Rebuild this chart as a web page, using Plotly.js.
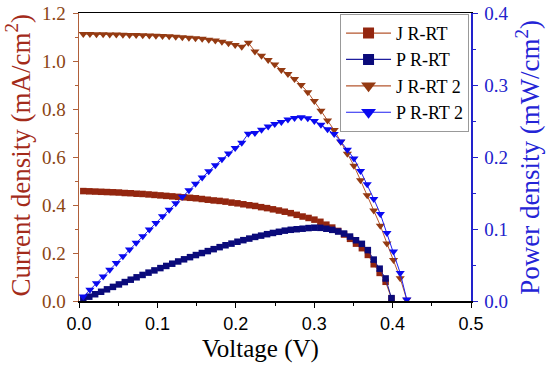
<!DOCTYPE html>
<html>
<head>
<meta charset="utf-8">
<script src="https://cdn.plot.ly/plotly-3.0.1.min.js"></script>
<style>html,body{margin:0;padding:0;background:#fff;}#chart{width:550px;height:369px;}</style>
</head>
<body>
<div id="chart"></div>
<script>
// Voltage (V) for the R-RT sample
const V1 = [0.0055,0.0131,0.0206,0.0282,0.0357,0.0433,0.0509,0.0584,0.0660,0.0735,0.0811,0.0887,0.0962,0.1038,0.1113,0.1189,0.1265,0.1340,0.1416,0.1491,0.1567,0.1643,0.1718,0.1794,0.1869,0.1945,0.2021,0.2096,0.2172,0.2247,0.2323,0.2399,0.2474,0.2550,0.2625,0.2701,0.2777,0.2852,0.2928,0.3003,0.3079,0.3155,0.3230,0.3306,0.3381,0.3457,0.3533,0.3608,0.3684,0.3759,0.3835,0.3911,0.3986];
// Current density (mA/cm2), J R-RT
const J1 = [0.458,0.457,0.456,0.455,0.454,0.453,0.452,0.450,0.449,0.447,0.446,0.444,0.442,0.440,0.438,0.436,0.434,0.432,0.430,0.428,0.425,0.422,0.419,0.417,0.414,0.410,0.407,0.403,0.399,0.396,0.391,0.387,0.382,0.377,0.372,0.366,0.359,0.352,0.346,0.339,0.330,0.318,0.306,0.292,0.277,0.259,0.239,0.220,0.192,0.153,0.117,0.080,0.010];
// Power density (mW/cm2), P R-RT
const P1 = [0.0025,0.0060,0.0094,0.0128,0.0162,0.0196,0.0230,0.0263,0.0296,0.0329,0.0362,0.0394,0.0425,0.0457,0.0487,0.0518,0.0549,0.0579,0.0609,0.0638,0.0666,0.0693,0.0720,0.0748,0.0774,0.0797,0.0823,0.0845,0.0867,0.0890,0.0908,0.0928,0.0945,0.0961,0.0977,0.0989,0.0997,0.1004,0.1013,0.1018,0.1016,0.1003,0.0988,0.0965,0.0937,0.0895,0.0844,0.0794,0.0707,0.0575,0.0449,0.0313,0.0040];
// Voltage (V) for the R-RT 2 sample
const V2 = [0.0055,0.0139,0.0223,0.0308,0.0392,0.0476,0.0560,0.0644,0.0729,0.0813,0.0897,0.0981,0.1065,0.1150,0.1234,0.1318,0.1402,0.1486,0.1571,0.1655,0.1739,0.1823,0.1907,0.1992,0.2076,0.2160,0.2244,0.2328,0.2413,0.2497,0.2581,0.2665,0.2749,0.2834,0.2918,0.3002,0.3086,0.3170,0.3255,0.3339,0.3423,0.3507,0.3591,0.3676,0.3760,0.3844,0.3928,0.4012,0.4097,0.4181];
// Current density (mA/cm2), J R-RT 2
const J2 = [1.112,1.112,1.111,1.111,1.110,1.110,1.109,1.108,1.108,1.107,1.106,1.105,1.104,1.103,1.101,1.099,1.097,1.095,1.093,1.089,1.085,1.080,1.074,1.067,1.059,1.076,1.040,1.022,1.004,0.985,0.963,0.946,0.925,0.900,0.870,0.833,0.793,0.752,0.712,0.664,0.614,0.564,0.503,0.441,0.377,0.314,0.240,0.171,0.095,0.005];
// Power density (mW/cm2), P R-RT 2
const P2 = [0.0061,0.0155,0.0248,0.0342,0.0435,0.0528,0.0621,0.0714,0.0808,0.0900,0.0992,0.1084,0.1176,0.1268,0.1359,0.1448,0.1538,0.1627,0.1717,0.1802,0.1887,0.1969,0.2048,0.2125,0.2198,0.2324,0.2334,0.2379,0.2423,0.2460,0.2486,0.2521,0.2543,0.2551,0.2539,0.2501,0.2447,0.2384,0.2318,0.2217,0.2102,0.1978,0.1806,0.1621,0.1418,0.1207,0.0943,0.0686,0.0389,0.0021];

const seriesNames = ['J R-RT','P R-RT','J R-RT 2','P R-RT 2'];
const xTitle = 'Voltage (V)';
const yTitle = 'Current density (mA/cm<sup>2</sup>)';
const y2Title = 'Power density (mW/cm<sup>2</sup>)';

const SERIF = 'Liberation Serif, Times New Roman, serif';
const SANS = 'Liberation Sans, Arial, sans-serif';
const brownLine = '#B5562E';
const blueLine = '#2222CC';

const styles = [
  {symbol:'square', size:6.5, mcolor:'#93260F', lcolor:brownLine, yaxis:'y'},
  {symbol:'square', size:6.5, mcolor:'#0A0A7A', lcolor:'#1E1E9E', yaxis:'y2'},
  {symbol:'triangle-down', size:8, mcolor:'#943A12', lcolor:brownLine, yaxis:'y'},
  {symbol:'triangle-down', size:8, mcolor:'#0A0AF0', lcolor:'#1E1EF0', yaxis:'y2'}
];
const xs = [V1, V1, V2, V2];
const ys = [J1, P1, J2, P2];

const traces = [];
for (let i = 0; i < 4; i++) {
  const s = styles[i];
  traces.push({
    x: xs[i], y: ys[i], yaxis: s.yaxis, type:'scatter', mode:'lines+markers',
    name: seriesNames[i], showlegend:false,
    line:{color:s.lcolor, width:1},
    marker:{symbol:s.symbol, size:s.size, color:s.mcolor, line:{width:0}}
  });
}
// legend-only entries (larger symbols as in the original legend)
for (let i = 0; i < 4; i++) {
  const s = styles[i];
  traces.push({
    x:[null], y:[null], yaxis:s.yaxis, type:'scatter', mode:'lines+markers',
    name: seriesNames[i], showlegend:true,
    line:{color:s.lcolor, width:1.2},
    marker:{symbol:s.symbol, size: s.symbol==='square' ? 11 : 13, color:s.mcolor, line:{width:0}}
  });
}

const layout = {
  width:550, height:369,
  margin:{l:79, r:79, t:13, b:68, pad:0},
  paper_bgcolor:'#fff', plot_bgcolor:'#fff',
  showlegend:true,
  xaxis:{
    range:[0,0.5], dtick:0.1, tick0:0, tickformat:'.1f',
    showgrid:false, zeroline:false,
    showline:true, linecolor:'#000', linewidth:1.5, mirror:true,
    ticks:'outside', ticklen:5, tickwidth:1, tickcolor:'#000',
    minor:{dtick:0.05, ticks:'outside', ticklen:3, tickcolor:'#000', tickwidth:1},
    tickfont:{family:SANS, size:18, color:'#000'},
    ticklabelstandoff:1
  },
  yaxis:{
    range:[0,1.2], dtick:0.2, tick0:0, tickformat:'.1f',
    showgrid:false, zeroline:false,
    showline:true, linecolor:'#B0603A', linewidth:1.5, mirror:false,
    ticks:'outside', ticklen:5, tickwidth:1, tickcolor:'#B0603A',
    minor:{dtick:0.1, ticks:'outside', ticklen:3, tickcolor:'#B0603A', tickwidth:1},
    tickfont:{family:SERIF, size:19, color:'#8B4513'},
    ticklabelstandoff:3
  },
  yaxis2:{
    overlaying:'y', side:'right',
    range:[0,0.4], dtick:0.1, tick0:0, tickformat:'.1f',
    showgrid:false, zeroline:false,
    showline:true, linecolor:blueLine, linewidth:1.5,
    ticks:'outside', ticklen:5, tickwidth:1, tickcolor:blueLine,
    minor:{dtick:0.05, ticks:'outside', ticklen:3, tickcolor:blueLine, tickwidth:1},
    tickfont:{family:SERIF, size:19, color:'#2222CC'},
    ticklabelstandoff:3
  },
  legend:{
    x:0.995, xanchor:'right', y:0.997, yanchor:'top',
    bgcolor:'#fff', bordercolor:'#999', borderwidth:1,
    font:{family:SERIF, size:18, color:'#000'},
    itemwidth:45, tracegroupgap:0
  },
  annotations:[
    {text:xTitle, xref:'paper', yref:'paper', x:0.464, y:-0.165, xanchor:'center', yanchor:'middle',
     showarrow:false, font:{family:SERIF, size:25, color:'#000'}},
    {text:yTitle, xref:'paper', yref:'paper', x:-0.156, y:0.505, xanchor:'center', yanchor:'middle',
     textangle:-90, showarrow:false, font:{family:SERIF, size:27, color:'#A32B1A'}},
    {text:y2Title, xref:'paper', yref:'paper', x:1.145, y:0.5, xanchor:'center', yanchor:'middle',
     textangle:-90, showarrow:false, font:{family:SERIF, size:27, color:'#2424D6'}}
  ]
};

Plotly.newPlot('chart', traces, layout, {displayModeBar:false, staticPlot:true});
</script>
</body>
</html>
